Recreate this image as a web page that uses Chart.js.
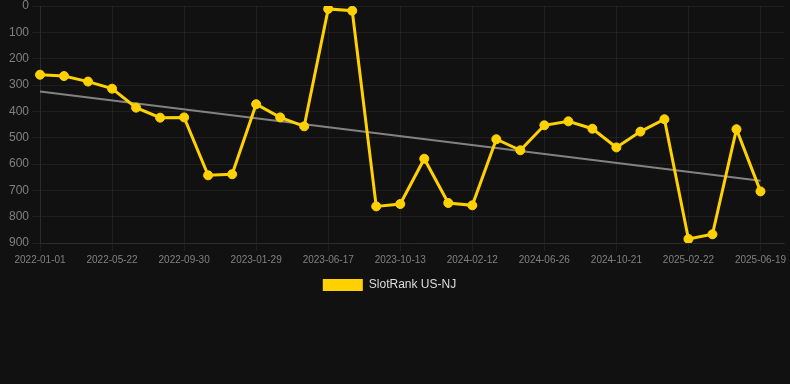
<!DOCTYPE html>
<html>
<head>
<meta charset="utf-8">
<script src="https://cdn.jsdelivr.net/npm/chart.js@4.4.1/dist/chart.umd.min.js"></script>
<style>
  html, body { margin: 0; padding: 0; background: #111111; }
  #wrap { position: relative; width: 790px; height: 301px; }
</style>
</head>
<body>
<div id="wrap"><canvas id="rankChart"></canvas></div>
<script>
const dates = [
  "2022-01-01", "2022-02-17", "2022-04-05", "2022-05-22", "2022-07-05", "2022-08-17",
  "2022-09-30", "2022-11-09", "2022-12-20", "2023-01-29", "2023-03-15", "2023-05-01",
  "2023-06-17", "2023-07-27", "2023-09-04", "2023-10-13", "2023-11-23", "2024-01-02",
  "2024-02-12", "2024-03-27", "2024-05-12", "2024-06-26", "2024-08-04", "2024-09-12",
  "2024-10-21", "2024-12-02", "2025-01-12", "2025-02-22", "2025-04-01", "2025-05-10",
  "2025-06-19", "2025-07-28"
];

const rankValues = [
  261, 266, 287, 314, 386, 424, 423, 643, 639, 373, 423, 457,
  11, 18, 761, 752, 580, 748, 757, 506, 548, 453, 438, 466,
  537, 477, 430, 885, 867, 468, 704
];

// trend line endpoints only, middle left empty
const trendStart = 325;
const trendEnd = 664;
const trendValues = rankValues.map((v, i) =>
  i === 0 ? trendStart : (i === rankValues.length - 1 ? trendEnd : null));

const yTicks = [0, 100, 200, 300, 400, 500, 600, 700, 800, 900];

const gold = "#ffd100";
const gridColor = "rgba(255,255,255,0.06)";
const tickColor = "#808080";
const fontFamily = "Liberation Sans, Arial, sans-serif";

// legend sits a little left of center in the original
const legendNudge = {
  id: "legendNudge",
  afterLayout(chart) {
    chart.legend.left -= 6;
    chart.legend.right -= 6;
  }
};

new Chart(document.getElementById("rankChart").getContext("2d"), {
  type: "line",
  data: {
    labels: dates,
    datasets: [{
      label: "SlotRank US-NJ",
      data: rankValues,
      borderColor: gold,
      backgroundColor: gold,
      borderWidth: 3,
      pointRadius: 4.5,
      pointBorderWidth: 1,
      pointBackgroundColor: gold,
      pointBorderColor: gold,
      tension: 0
    }, {
      label: "trend",
      data: trendValues,
      borderColor: "rgba(150,150,150,0.85)",
      borderWidth: 2,
      pointRadius: 0,
      spanGaps: true,
      fill: false
    }]
  },
  plugins: [legendNudge],
  options: {
    responsive: true,
    maintainAspectRatio: false,
    animation: false,
    layout: { padding: { top: 6, right: 5, left: 6, bottom: 0 } },
    plugins: {
      tooltip: { enabled: false },
      legend: {
        position: "bottom",
        labels: {
          color: "#dddddd",
          font: { family: fontFamily, size: 12 },
          boxWidth: 40,
          boxHeight: 12,
          filter: item => item.text !== "trend",
          generateLabels: chart => Chart.defaults.plugins.legend.labels.generateLabels(chart)
            .map(item => Object.assign(item, { lineWidth: 0 }))
        }
      }
    },
    scales: {
      x: {
        grid: { color: gridColor },
        border: { color: gridColor },
        afterFit: axis => { axis.paddingRight = 0; axis.paddingLeft = 0; },
        ticks: {
          autoSkip: false,
          maxRotation: 0,
          color: tickColor,
          font: { family: fontFamily, size: 10 },
          callback: function (value, index) {
            if (index >= rankValues.length) return null;
            return index % 3 === 0 ? dates[index] : null;
          }
        }
      },
      y: {
        reverse: true,
        min: yTicks[0],
        max: yTicks[yTicks.length - 1],
        grid: { color: gridColor },
        border: { color: gridColor },
        afterBuildTicks: axis => { axis.ticks = yTicks.map(v => ({ value: v })); },
        afterFit: axis => { axis.paddingTop = 0; axis.paddingBottom = 0; },
        ticks: {
          color: tickColor,
          font: { family: fontFamily, size: 12 }
        }
      }
    }
  }
});
</script>
</body>
</html>
